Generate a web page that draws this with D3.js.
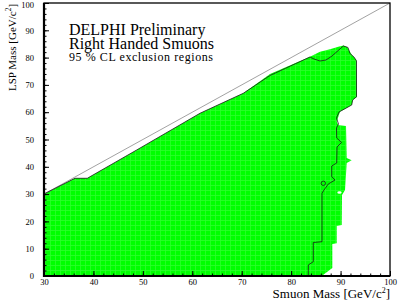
<!DOCTYPE html>
<html>
<head>
<meta charset="utf-8">
<script src="https://cdn.jsdelivr.net/npm/d3@7"></script>
<style>
  body { margin: 0; background: #fff; }
  svg text { font-family: "Liberation Serif", "DejaVu Serif", serif; fill: #000; }
</style>
</head>
<body>
<div id="chart"></div>
<script>

// axis setup
var xDomain = [30, 100];
var yDomain = [0, 100];
var xMajorTicks = [30, 40, 50, 60, 70, 80, 90, 100];
var yMajorTicks = [0, 10, 20, 30, 40, 50, 60, 70, 80, 90, 100];

// kinematic limit (LSP mass = smuon mass)
var limitLine = [[30, 30], [100, 100]];

// excluded region (green), [smuon mass, LSP mass]
var excludedRegion = [
  [30, 30.04], [36.27, 35.79], [38.76, 35.79], [48.75, 46.15], [61.56, 59.6],
  [70.32, 66.92], [75.72, 73.99], [83.81, 80.33], [85.84, 82.16], [87.86, 83.04],
  [89.54, 83.99], [90.55, 84.43], [91.3, 83.88], [92.31, 80.95], [93.22, 79.12],
  [93.32, 65.57], [92.45, 64.47], [92.25, 62.64], [89.88, 60.18], [89.22, 56.52],
  [89.54, 55.31], [91.1, 54.95], [91.24, 43.22], [92.25, 42.38], [91.24, 41.39],
  [90.9, 31.5], [90.29, 29.67], [90.23, 18.68], [89.22, 18.32], [89.22, 11.98],
  [88.33, 11.72], [88.33, 2.93], [86.18, 0], [30, 0]
];

// exclusion contour (black line)
var contourLine = [
  [30, 30.04], [36.27, 35.79], [38.76, 35.79], [48.75, 46.15], [61.56, 59.6],
  [70.32, 66.92], [75.72, 73.44], [83.81, 80.22], [84.62, 79.49], [85.84, 78.75],
  [87.05, 79.12], [88.27, 80.59], [90.55, 84.25], [91.5, 83.7], [91.9, 81.5],
  [92.71, 80.22], [93.22, 78.75], [93.22, 65.68], [92.45, 64.47], [92.25, 62.64],
  [89.68, 60.07], [89.17, 57.88], [89.58, 55.68], [89.17, 54.21], [89.22, 50.55],
  [90.19, 48.9], [89.28, 47.25], [89.22, 41.39], [88.21, 40.29], [88.21, 36.37],
  [88.88, 35.16], [87.52, 33.7], [86.65, 31.5], [86.24, 30.29], [86.24, 12.56],
  [84.48, 12.27], [84.48, 5.24], [83.47, 4.03], [83.47, 0]
];

// small isolated contour island and hole in the green
var contourIsland = [86.51, 33.96];
var regionHole = [89.78, 30.59];

var titleLines = ["DELPHI Preliminary", "Right Handed Smuons"];
var subtitle = "95 % CL exclusion regions";


var width = 398, height = 300;
var margin = { top: 3, right: 8, bottom: 24, left: 44 };

var svg = d3.select("#chart").append("svg")
  .attr("width", width).attr("height", height);

var x = d3.scaleLinear().domain(xDomain).range([margin.left, width - margin.right]);
var y = d3.scaleLinear().domain(yDomain).range([height - margin.bottom, margin.top]);

var line = d3.line().x(function(d) { return x(d[0]); }).y(function(d) { return y(d[1]); });

// faint light grid seen inside the fill
var defs = svg.append("defs");
var pat = defs.append("pattern")
  .attr("id", "fillgrid").attr("patternUnits", "userSpaceOnUse")
  .attr("width", 5).attr("height", 5);
pat.append("rect").attr("width", 5).attr("height", 5).attr("fill", "#00ff00");
pat.append("path").attr("d", "M0,0.5H5M0.5,0V5")
  .attr("stroke", "#2cff2c").attr("stroke-width", 0.8);

// green area
svg.append("path")
  .datum(excludedRegion)
  .attr("d", line.curve(d3.curveLinearClosed))
  .attr("fill", "url(#fillgrid)")
  .attr("stroke", "none");
line.curve(d3.curveLinear);

svg.append("ellipse")
  .attr("cx", x(regionHole[0])).attr("cy", y(regionHole[1]))
  .attr("rx", 2.2).attr("ry", 1.3)
  .attr("fill", "#fff");

// diagonal
svg.append("path")
  .datum(limitLine)
  .attr("d", line)
  .attr("fill", "none")
  .attr("stroke", "#8a8a8a")
  .attr("stroke-width", 0.8);

// contour
svg.append("path")
  .datum(contourLine)
  .attr("d", line)
  .attr("fill", "none")
  .attr("stroke", "#1a1a1a")
  .attr("stroke-width", 0.8);

svg.append("circle")
  .attr("cx", x(contourIsland[0])).attr("cy", y(contourIsland[1]))
  .attr("r", 2.2)
  .attr("fill", "none")
  .attr("stroke", "#1a1a1a")
  .attr("stroke-width", 0.8);

// minor ticks every 2 units
var xMinor = d3.range(xDomain[0], xDomain[1] + 0.1, 2);
var yMinor = d3.range(yDomain[0], yDomain[1] + 0.1, 2);

svg.append("g")
  .attr("transform", "translate(0," + y(0) + ")")
  .call(d3.axisBottom(x).tickValues(xMinor).tickSizeInner(-2.5).tickSizeOuter(0).tickFormat(""))
  .call(function(g) { g.select(".domain").remove(); });

svg.append("g")
  .attr("transform", "translate(" + x(30) + ",0)")
  .call(d3.axisLeft(y).tickValues(yMinor).tickSizeInner(-2.5).tickSizeOuter(0).tickFormat(""))
  .call(function(g) { g.select(".domain").remove(); });

svg.append("g")
  .attr("transform", "translate(0," + y(0) + ")")
  .call(d3.axisBottom(x).tickValues(xMajorTicks).tickSizeInner(-5).tickSizeOuter(0).tickPadding(3))
  .call(function(g) { g.select(".domain").remove(); });

svg.append("g")
  .attr("transform", "translate(" + x(30) + ",0)")
  .call(d3.axisLeft(y).tickValues(yMajorTicks).tickSizeInner(-5).tickSizeOuter(0).tickPadding(10))
  .call(function(g) { g.select(".domain").remove(); });

svg.selectAll(".tick text")
  .attr("font-family", "Liberation Serif, serif")
  .attr("font-size", 8.5)
  .attr("fill", "#222");

// top label sits right at the edge, nudge it down a bit
svg.selectAll(".tick text").filter(function(d) { return d === 100 && this.getAttribute("x") < 0; })
  .attr("dy", "0.5em");

// frame
svg.append("rect")
  .attr("x", x(30)).attr("y", y(100))
  .attr("width", x(100) - x(30)).attr("height", y(0) - y(100))
  .attr("fill", "none").attr("stroke", "#000").attr("stroke-width", 1.3);
svg.append("line")
  .attr("x1", x(30)).attr("x2", x(30)).attr("y1", y(100)).attr("y2", y(0) + 1)
  .attr("stroke", "#000").attr("stroke-width", 2.2);
svg.append("line")
  .attr("x1", x(30) - 1).attr("x2", x(100)).attr("y1", y(0)).attr("y2", y(0))
  .attr("stroke", "#000").attr("stroke-width", 2.2);

// labels
var title = svg.append("g");
title.selectAll("text.title")
  .data(titleLines)
  .enter().append("text")
  .attr("class", "title")
  .attr("x", 69)
  .attr("y", function(d, i) { return 35 + i * 13.8; })
  .attr("font-size", 16)
  .text(function(d) { return d; });
title.append("text")
  .attr("x", 69).attr("y", 61)
  .attr("font-size", 12)
  .attr("textLength", 144).attr("lengthAdjust", "spacing")
  .text(subtitle);

var xLabel = svg.append("text")
  .attr("x", x(100)).attr("y", 297.5)
  .attr("text-anchor", "end")
  .attr("font-size", 13);
xLabel.append("tspan").text("Smuon Mass [GeV/c");
xLabel.append("tspan").attr("dy", -5).attr("font-size", 8).text("2");
xLabel.append("tspan").attr("dy", 5).text("]");

var yLabel = svg.append("text")
  .attr("transform", "translate(15.5,91) rotate(-90)")
  .attr("font-size", 11);
yLabel.append("tspan").text("LSP Mass [GeV/c");
yLabel.append("tspan").attr("dy", -4.5).attr("font-size", 7.5).text("2");
yLabel.append("tspan").attr("dy", 4.5).text("]");

</script>
</body>
</html>
